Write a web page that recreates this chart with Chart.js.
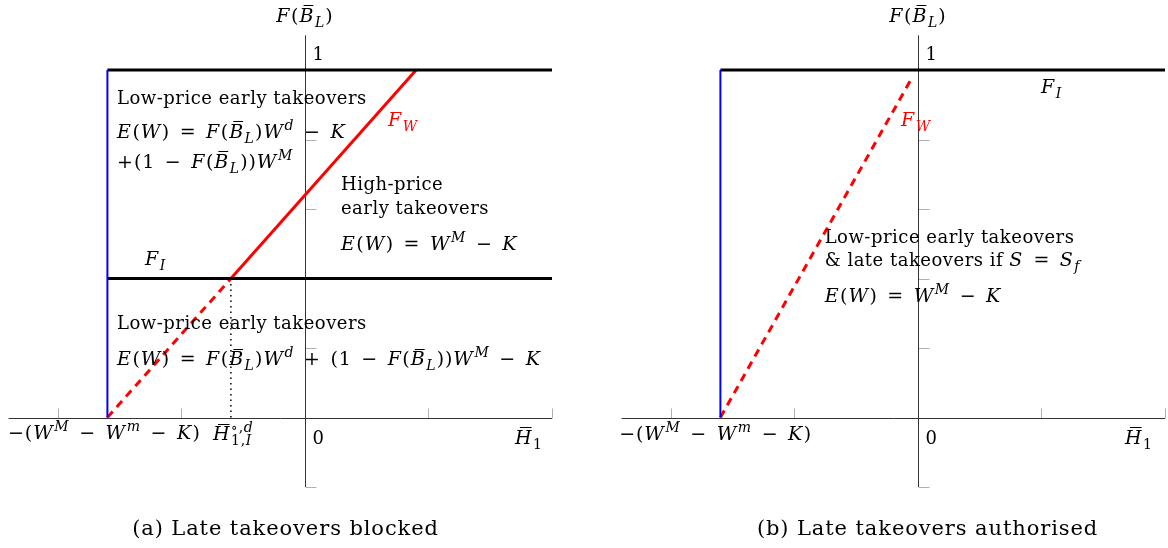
<!DOCTYPE html>
<html><head><meta charset="utf-8">
<script src="https://cdn.jsdelivr.net/npm/chart.js@4"></script>
<style>
html,body{margin:0;padding:0;background:#fff;overflow:hidden}
#wrap{position:relative;width:1168px;height:548px}
canvas{position:absolute;top:0}
#ca{left:0}#cb{left:584px}
</style></head><body>
<div id="wrap"><canvas id="ca" width="584" height="548"></canvas><canvas id="cb" width="584" height="548"></canvas></div>
<script>
// ---------- data ----------
const xTickValues = [-2, -1, 1, 2];
const yTickValues = [-0.2, 0.2, 0.4, 0.6, 0.8, 1.0];
const xRange = [-2.4, 2];
const yRange = [-0.2, 1.1];
const lowerBound = -1.6;            // −(W^M − W^m − K)
const topLevel = 1;                 // F(B_L) = 1
const fiLevelA = 0.4;               // F_I in panel (a)
const thresholdA = -0.6;            // H̄°,d_{1,I}
const fwAx = [-1.6, -0.6, 0.9];     // F_W panel (a)
const fwAy = [0, 0.4, 1];
const fwBx = [-1.6, -0.05];         // F_W panel (b)
const fwBy = [0, 0.977];

const FONT = '"DejaVu Serif", serif';
const FS = 18;       // text size
const MS = 19;       // math size
const TEXT_SP = 0.5;

// ---------- rich text ----------
function parse(str){
  const out=[]; let math=false; let i=0;
  const isL=ch=>/[A-Za-z]/.test(ch);
  while(i<str.length){
    const c=str[i];
    if(c==='$'){math=!math;i++;continue;}
    if(math&&(c==='_'||c==='^')){
      i++; let g;
      if(str[i]==='{'){const j=str.indexOf('}',i); g=str.slice(i+1,j); i=j+1;} else {g=str[i]; i++;}
      const items=[]; for(const ch of g) items.push({ch,it:isL(ch),m:true,sc:true});
      out.push({group:true,level:c==='^'?1:-1,items}); continue;
    }
    if(math&&str.startsWith('\\bar{',i)){
      const j=str.indexOf('}',i);
      for(const ch of str.slice(i+5,j)) out.push({ch,it:true,bar:true,m:true});
      i=j+1; continue;
    }
    out.push({ch:c,it:math&&isL(c),m:math}); i++;
  }
  return out;
}
function drawChar(ctx,c,x,y,size,draw){
  ctx.font=(c.it?'italic ':'')+size+'px '+FONT;
  const w=ctx.measureText(c.ch).width;
  let adv;
  if(c.m){
    if(c.ch===' ') adv=size*0.5;
    else adv=w+size*(c.it?0.08:0.05);
  } else adv=w+TEXT_SP;
  if(draw){
    ctx.fillStyle=draw.color; ctx.fillText(c.ch,x,y);
    if(c.bar){
      ctx.strokeStyle=draw.color; ctx.lineWidth=1;
      const by=Math.round(y-size*0.88)+0.5;
      ctx.beginPath(); ctx.moveTo(x+w*0.3,by); ctx.lineTo(x+w*1.0,by); ctx.stroke();
    }
  }
  return adv;
}
function layoutRich(ctx,items,draw){
  const x0=draw?draw.x:0; let x=x0; let prev=null;
  for(const it of items){
    if(it.group){
      let start=x, prevEnd=null;
      if(prev&&prev.level!==it.level){start=prev.start; prevEnd=prev.end;}
      const s=Math.round(MS*0.72);
      const dy=it.level>0?-MS*0.44:MS*0.26;
      let gx=start;
      for(const c of it.items) gx+=drawChar(ctx,c,gx,draw?draw.y+dy:0,s,draw);
      x=prevEnd!==null?Math.max(prevEnd,gx):gx;
      prev={level:it.level,start,end:gx};
    } else {
      x+=drawChar(ctx,it,x,draw?draw.y:0,it.m?MS:FS,draw); prev=null;
    }
  }
  return x-x0;
}
function drawRich(ctx,str,x,y,color,align){
  const items=parse(str);
  ctx.textBaseline='alphabetic'; ctx.textAlign='left';
  const w=layoutRich(ctx,items,null);
  const sx=align==='center'?x-w/2:x;
  layoutRich(ctx,items,{x:sx,y,color});
}
function drawSpaced(ctx,str,cx,y,size,sp){
  ctx.font=size+'px '+FONT; ctx.textAlign='left'; ctx.textBaseline='alphabetic'; ctx.fillStyle='#000';
  let w=0; for(const ch of str) w+=ctx.measureText(ch).width+sp;
  let x=cx-w/2;
  for(const ch of str){ctx.fillText(ch,x,y); x+=ctx.measureText(ch).width+sp;}
}

// ---------- labels ----------
const labelsA = [
  {t:'$F(\\bar{B}_L)$', x:0, y:1.138, align:'center'},
  {t:'1', x:0.06, y:1.029},
  {t:'Low-price early takeovers', x:-1.522, y:0.902},
  {t:'$E(W) = F(\\bar{B}_L)W^d − K$', x:-1.522, y:0.804},
  {t:'$+(1 − F(\\bar{B}_L))W^M$', x:-1.522, y:0.718},
  {t:'$F_W$', x:0.672, y:0.839, color:'#ff0000'},
  {t:'High-price', x:0.291, y:0.654},
  {t:'early takeovers', x:0.291, y:0.585},
  {t:'$E(W) = W^M − K$', x:0.291, y:0.481},
  {t:'$F_I$', x:-1.296, y:0.438},
  {t:'Low-price early takeovers', x:-1.522, y:0.254},
  {t:'$E(W) = F(\\bar{B}_L)W^d + (1 − F(\\bar{B}_L))W^M − K$', x:-1.522, y:0.150},
  {t:'$−(W^M − W^m − K)$', x:-2.405, y:-0.063},
  {t:'$\\bar{H}^{∘,d}_{1,I}$', x:-0.745, y:-0.066},
  {t:'0', x:0.06, y:-0.075},
  {t:'$\\bar{H}_1$', x:1.70, y:-0.075}
];
const labelsB = [
  {t:'$F(\\bar{B}_L)$', x:0, y:1.138, align:'center'},
  {t:'1', x:0.06, y:1.029},
  {t:'$F_I$', x:0.996, y:0.934},
  {t:'$F_W$', x:-0.138, y:0.839, color:'#ff0000'},
  {t:'Low-price early takeovers', x:-0.756, y:0.501},
  {t:'& late takeovers if $S = S_f$', x:-0.756, y:0.435},
  {t:'$E(W) = W^M − K$', x:-0.756, y:0.331},
  {t:'$−(W^M − W^m − K)$', x:-2.42, y:-0.066},
  {t:'0', x:0.06, y:-0.075},
  {t:'$\\bar{H}_1$', x:1.676, y:-0.075}
];

// ---------- plugins ----------
const axesPlugin = {
  id:'axesPlugin',
  beforeDatasetsDraw(chart){
    const ctx=chart.ctx, xs=chart.scales.x, ys=chart.scales.y;
    const ox=Math.round(xs.getPixelForValue(0))+0.5, oy=Math.round(ys.getPixelForValue(0))+0.5;
    ctx.save();
    ctx.lineWidth=1;
    ctx.strokeStyle='#b0b0b0';
    ctx.beginPath();
    for(const v of xTickValues){const p=Math.round(xs.getPixelForValue(v))+0.5; ctx.moveTo(p,oy); ctx.lineTo(p,oy-10);}
    for(const v of yTickValues){const p=Math.round(ys.getPixelForValue(v))+0.5; ctx.moveTo(ox,p); ctx.lineTo(ox+11,p);}
    ctx.stroke();
    ctx.strokeStyle='#333';
    ctx.beginPath();
    ctx.moveTo(xs.getPixelForValue(xRange[0]),oy); ctx.lineTo(xs.getPixelForValue(xRange[1]),oy);
    ctx.moveTo(ox,ys.getPixelForValue(yRange[1])); ctx.lineTo(ox,ys.getPixelForValue(yRange[0]));
    ctx.stroke();
    ctx.restore();
  },
  afterDraw(chart,args,opts){
    const ctx=chart.ctx, xs=chart.scales.x, ys=chart.scales.y;
    ctx.save();
    for(const l of opts.labels){
      drawRich(ctx,l.t,xs.getPixelForValue(l.x),ys.getPixelForValue(l.y),l.color||'#000',l.align);
    }
    drawSpaced(ctx,opts.caption,opts.captionX,535,21,0.9);
    ctx.restore();
  }
};

function seg(xa,ya){return xa.map((x,i)=>({x,y:ya[i]}));}
function line(data,color,width,dash){
  return {data,borderColor:color,borderWidth:width,borderDash:dash||[],showLine:true,pointRadius:0,fill:false,clip:false,borderCapStyle:'butt'};
}
function makeChart(id,datasets,labels,caption,captionX,padL,padR){
  return new Chart(document.getElementById(id),{
    type:'scatter',
    data:{datasets},
    options:{
      responsive:false,animation:false,devicePixelRatio:1,
      layout:{padding:{left:padL,right:padR,top:35.3,bottom:61}},
      scales:{
        x:{type:'linear',min:xRange[0],max:xRange[1],display:false},
        y:{type:'linear',min:yRange[0],max:yRange[1],display:false}
      },
      plugins:{legend:{display:false},tooltip:{enabled:false},
        axesPlugin:{labels,caption,captionX}}
    },
    plugins:[axesPlugin]
  });
}

const dsA = [
  line(seg([thresholdA,thresholdA],[0,fiLevelA]),'#000',1.5,[1.5,4]),
  line(seg([lowerBound,lowerBound],[0,topLevel]),'#0000ff',2),
  line(seg([lowerBound,xRange[1]],[topLevel,topLevel]),'#000',3),
  line(seg([lowerBound,xRange[1]],[fiLevelA,fiLevelA]),'#000',3),
  line(seg(fwAx.slice(0,2),fwAy.slice(0,2)),'#ff0000',3,[8,6]),
  line(seg(fwAx.slice(1),fwAy.slice(1)),'#ff0000',3)
];
const dsB = [
  line(seg([lowerBound,lowerBound],[0,topLevel]),'#0000ff',2),
  line(seg([lowerBound,xRange[1]],[topLevel,topLevel]),'#000',3),
  line(seg(fwBx,fwBy),'#ff0000',3,[8,6])
];
makeChart('ca',dsA,labelsA,'(a) Late takeovers blocked',285.5,8.6,32);
makeChart('cb',dsB,labelsB,'(b) Late takeovers authorised',343.5,37.6,3);
</script></body></html>
